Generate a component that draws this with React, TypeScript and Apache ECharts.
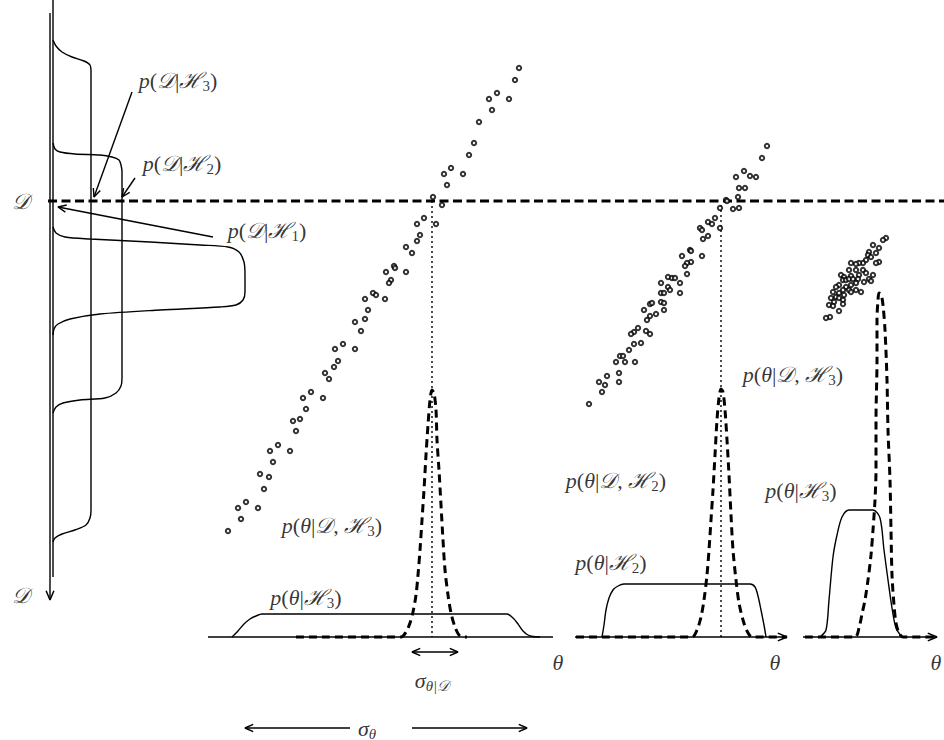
import React, { useEffect, useRef } from "react";
import * as echarts from "echarts";

const W = 944;
const H = 740;

// ---- left panel: evidence curves (diagram coordinates) ----
const evidenceH3 = [[53,40],[56,46],[62,52],[72,57],[84,61],[90,65],[91,72],[91,510],[90,518],[86,525],[75,530],[62,534],[55,538],[53,542]];
const evidenceH2 = [[53,143],[55,149],[60,152],[75,154],[100,155],[112,157],[119,160],[121,165],[122,172],[122,378],[121,386],[116,393],[105,398],[80,400],[63,403],[56,407],[53,413]];
const evidenceH1 = [[53,227],[56,233],[65,237],[90,239],[150,242],[200,245],[228,247],[239,252],[244,262],[245,275],[245,292],[243,300],[236,305],[220,307],[160,310],[100,314],[70,319],[58,324],[54,329],[53,335]];
const axisD = [[50,13],[50,600]];
const axisD2 = [[53,0],[53,577]];
const dataLine = [[48,201],[944,201]];

// ---- theta panels ----
const baseline1 = [[208,637],[553,637]];
const baseline2 = [[575,637],[787,637]];
const baseline3 = [[803,637],[937,637]];
const prior1 = [[232,637],[238,631],[244,624],[250,619],[256,616],[262,614],[507,614],[513,618],[518,624],[523,631],[528,635],[533,636.5],[540,637]];
const prior2 = [[602,637],[604,625],[606,610],[609,598],[613,590],[618,586],[624,584],[750,584],[755,587],[758,596],[761,610],[764,625],[766,637]];
const prior3 = [[820,637],[826,630],[829,600],[833,557],[837,535],[842,517],[849,510],[873,510],[880,518],[884,550],[888,580],[892,608],[896,628],[902,637]];
const posterior1 = [[296,637],[401,637],[406,632],[410,623],[413,612],[416,595],[418,575],[420,550],[422,520],[424,490],[426,455],[428,425],[430,400],[432,390],[434,393],[436,410],[437,440],[439,470],[441,505],[443,540],[445,570],[448,595],[451,613],[455,627],[460,636],[467,637]];
const posterior2 = [[576,637],[692,637],[697,630],[701,617],[704,600],[707,575],[709,550],[711,520],[713,490],[715,455],[717,420],[719,398],[721,389],[723,392],[725,410],[727,440],[729,475],[731,515],[733,550],[736,580],[739,603],[743,620],[747,631],[752,637],[787,637]];
const posterior3 = [[805,637],[855,637],[859,628],[862,614],[865,600],[868,580],[871,555],[873,530],[875,500],[876,470],[876,420],[877,360],[877,320],[878,300],[879,293],[881,294],[883,305],[885,330],[887,380],[888,430],[890,480],[891,530],[892,575],[894,605],[896,623],[899,633],[903,637],[935,637]];
const bestFit1 = [[432,201],[432,637]];
const bestFit2 = [[721,205],[721,637]];

// ---- scatter clouds ----
const cloud1 = [[519,68],[515,80],[497,93],[489,99],[492,110],[509,99],[479,122],[474,143],[469,155],[444,174],[451,168],[463,174],[447,185],[433,197],[442,205],[436,224],[424,218],[417,224],[420,235],[417,241],[406,247],[412,253],[406,272],[394,266],[395,268],[386,272],[391,280],[389,283],[373,293],[376,295],[365,299],[385,299],[368,310],[365,319],[355,322],[361,331],[343,344],[335,349],[355,349],[338,361],[334,367],[325,373],[329,379],[311,392],[303,398],[323,398],[306,409],[293,421],[300,419],[296,431],[278,445],[270,451],[290,451],[273,462],[260,474],[269,477],[264,489],[246,502],[238,508],[258,508],[241,519],[228,531]];
const cloud2 = [[767,146],[762,158],[744,171],[736,177],[750,176],[756,177],[739,188],[745,188],[738,197],[726,200],[727,201],[720,208],[733,209],[739,208],[715,218],[708,222],[712,224],[700,228],[702,230],[720,228],[708,236],[703,239],[690,250],[691,251],[682,256],[702,256],[691,262],[687,263],[685,266],[687,274],[668,277],[672,278],[675,278],[661,283],[680,283],[668,287],[670,290],[661,293],[664,293],[680,293],[661,302],[664,303],[650,304],[652,303],[664,310],[644,310],[650,316],[656,314],[647,320],[638,328],[634,332],[631,334],[646,331],[650,334],[641,343],[634,344],[629,350],[620,356],[623,356],[616,362],[625,362],[635,362],[619,373],[619,382],[607,376],[599,382],[605,385],[602,392],[589,404]];
const cloud3 = [[886,238],[883,240],[873,245],[879,248],[869,252],[876,253],[868,255],[871,257],[866,260],[863,263],[859,263],[856,264],[851,263],[879,262],[876,263],[849,270],[856,270],[863,270],[866,273],[859,275],[873,275],[841,275],[844,277],[851,276],[843,280],[846,280],[849,279],[853,279],[858,279],[869,279],[871,281],[864,282],[856,283],[851,285],[839,285],[836,287],[846,287],[843,290],[849,290],[856,290],[861,292],[833,292],[839,293],[844,295],[851,292],[836,297],[839,298],[831,298],[843,300],[834,302],[843,304],[829,305],[833,306],[839,311],[830,317],[826,318]];

// ---- arrows: [from, to, doubleHeaded] ----
const arrows = [
  { from: [132, 92], to: [94, 197], both: false },
  { from: [135, 178], to: [122, 197], both: false },
  { from: [213, 237], to: [58, 207], both: false },
  { from: [412, 652], to: [458, 652], both: true },
  { from: [350, 728], to: [245, 728], both: false },
  { from: [412, 728], to: [527, 728], both: false },
];
const axisHeads = [
  { from: [50, 560], to: [50, 600] },
  { from: [760, 637], to: [787, 637] },
  { from: [910, 637], to: [937, 637] },
];

// ---- labels ----
const labelTexts = [
  { at: [21, 201], text: "{s|𝒟}" },
  { at: [21, 595], text: "{s|𝒟}" },
  { at: [178, 80], text: "{i|p}{n|(}{s|𝒟}{n||}{s|ℋ}{sub|3}{n|)}" },
  { at: [182, 163], text: "{i|p}{n|(}{s|𝒟}{n||}{s|ℋ}{sub|2}{n|)}" },
  { at: [267, 230], text: "{i|p}{n|(}{s|𝒟}{n||}{s|ℋ}{sub|1}{n|)}" },
  { at: [332, 525], text: "{i|p}{n|(}{i|θ}{n||}{s|𝒟}{n|, }{s|ℋ}{sub|3}{n|)}" },
  { at: [306, 597], text: "{i|p}{n|(}{i|θ}{n||}{s|ℋ}{sub|3}{n|)}" },
  { at: [616, 480], text: "{i|p}{n|(}{i|θ}{n||}{s|𝒟}{n|, }{s|ℋ}{sub|2}{n|)}" },
  { at: [611, 562], text: "{i|p}{n|(}{i|θ}{n||}{s|ℋ}{sub|2}{n|)}" },
  { at: [793, 374], text: "{i|p}{n|(}{i|θ}{n||}{s|𝒟}{n|, }{s|ℋ}{sub|3}{n|)}" },
  { at: [801, 490], text: "{i|p}{n|(}{i|θ}{n||}{s|ℋ}{sub|3}{n|)}" },
  { at: [558, 662], text: "{i|θ}" },
  { at: [775, 662], text: "{i|θ}" },
  { at: [936, 662], text: "{i|θ}" },
  { at: [432, 680], text: "{i|σ}{subi|θ|𝒟}" },
  { at: [367, 728], text: "{i|σ}{subi|θ}" },
];

function headPts(from: number[], to: number[], len = 9, ang = 0.42) {
  const dx = from[0] - to[0];
  const dy = from[1] - to[1];
  const d = Math.hypot(dx, dy) || 1;
  const ux = dx / d, uy = dy / d;
  const rot = (a: number) => [
    to[0] + len * (ux * Math.cos(a) - uy * Math.sin(a)),
    to[1] + len * (ux * Math.sin(a) + uy * Math.cos(a)),
  ];
  return [rot(ang), to, rot(-ang)];
}

const SERIF = "'Liberation Serif', 'DejaVu Serif', serif";

function lineSeries(data: number[][], width = 1.3, type: any = "solid", smooth: any = false) {
  return {
    type: "line",
    data,
    symbol: "none",
    smooth,
    silent: true,
    lineStyle: { color: "#000", width, type, cap: "butt" },
    z: 2,
  };
}

export default function App() {
  const ref = useRef<HTMLDivElement>(null);
  useEffect(() => {
    if (!ref.current) return;
    const chart = echarts.init(ref.current, undefined, { renderer: "svg" });
    const series: any[] = [];
    series.push(lineSeries(axisD, 1.4));
    series.push(lineSeries(axisD2, 1.4));
    series.push(lineSeries(evidenceH3, 1.4, "solid", 0.3));
    series.push(lineSeries(evidenceH2, 1.4, "solid", 0.3));
    series.push(lineSeries(evidenceH1, 1.4, "solid", 0.3));
    series.push(lineSeries(dataLine, 3, [9, 4.5]));
    [baseline1, baseline2, baseline3].forEach((b) => series.push(lineSeries(b, 1.6)));
    [prior1, prior2, prior3].forEach((p) => series.push(lineSeries(p, 1.4, "solid", 0.3)));
    [posterior1, posterior2, posterior3].forEach((p) => series.push(lineSeries(p, 3, [8, 5], 0.3)));
    [bestFit1, bestFit2].forEach((b) => series.push(lineSeries(b, 1.4, [2, 3])));
    arrows.forEach((a) => {
      series.push(lineSeries([a.from, a.to], 1.4));
      series.push(lineSeries(headPts(a.from, a.to), 1.4));
      if (a.both) series.push(lineSeries(headPts(a.to, a.from), 1.4));
    });
    axisHeads.forEach((a) => series.push(lineSeries(headPts(a.from, a.to, 10, 0.4), 1.5)));
    [cloud1, cloud2, cloud3].forEach((c) =>
      series.push({
        type: "scatter",
        data: c,
        symbol: "circle",
        symbolSize: 4.4,
        silent: true,
        itemStyle: { color: "#fff", borderColor: "#000", borderWidth: 2 },
        z: 3,
      })
    );
    series.push({
      type: "scatter",
      symbolSize: 0,
      silent: true,
      z: 5,
      data: labelTexts.map((l) => ({
        value: l.at,
        label: { formatter: l.text },
      })),
      label: {
        show: true,
        position: "inside",
        align: "center",
        verticalAlign: "middle",
        color: "#000",
        rich: {
          i: { fontFamily: SERIF, fontStyle: "italic", fontSize: 22, lineHeight: 26, color: "#000" },
          n: { fontFamily: SERIF, fontSize: 22, lineHeight: 26, color: "#000" },
          s: { fontFamily: SERIF, fontStyle: "italic", fontSize: 22, lineHeight: 26, color: "#000" },
          sub: { fontFamily: SERIF, fontSize: 15, lineHeight: 13, verticalAlign: "bottom", color: "#000" },
          subi: { fontFamily: SERIF, fontStyle: "italic", fontSize: 15, lineHeight: 13, verticalAlign: "bottom", color: "#000" },
        },
      },
    });
    chart.setOption({
      animation: false,
      backgroundColor: "#fff",
      grid: { left: 0, right: 0, top: 0, bottom: 0 },
      xAxis: { type: "value", min: 0, max: W, show: false },
      yAxis: { type: "value", min: 0, max: H, inverse: true, show: false },
      series,
    });
    return () => chart.dispose();
  }, []);
  return (
    <div
      ref={ref}
      style={{ position: "fixed", left: 0, top: 0, width: W, height: H, background: "#fff" }}
    />
  );
}
